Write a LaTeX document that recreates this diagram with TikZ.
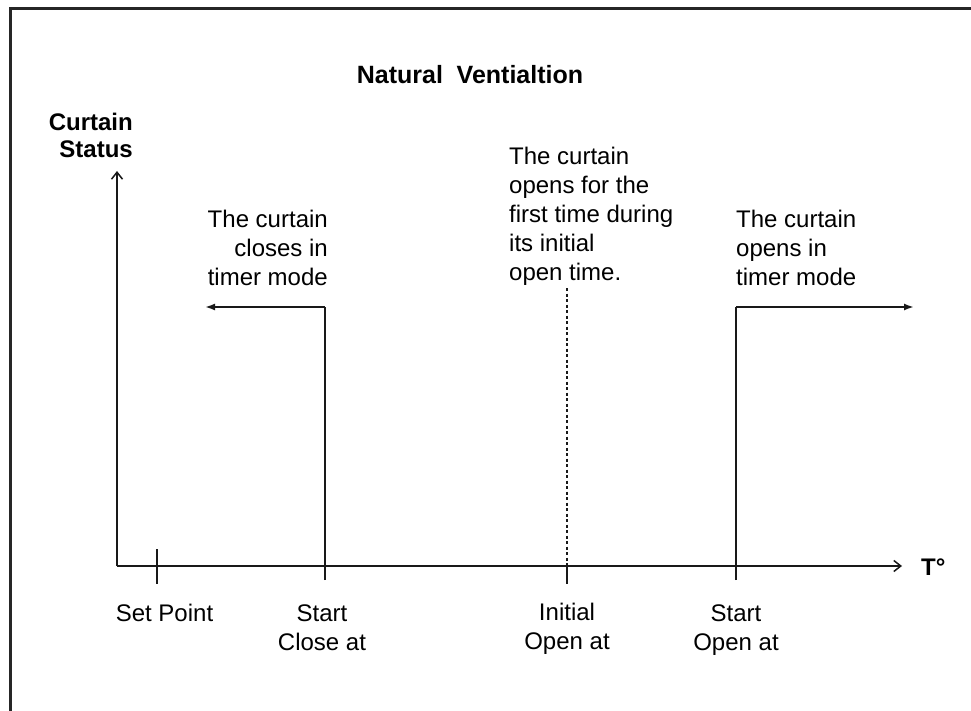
\documentclass[tikz,border=0pt]{standalone}
\usepackage{fontspec}
\setmainfont{Liberation Sans}
\usetikzlibrary{arrows.meta}
\begin{document}
\begin{tikzpicture}[x=1pt,y=-1pt,
  txt/.style={inner sep=0pt, font=\fontsize{24}{29}\selectfont},
  btxt/.style={inner sep=0pt, font=\fontsize{24}{27}\selectfont\bfseries},
  axis/.style={line width=1.8pt, draw=black!90, -{Straight Barb[length=7pt,width=11pt,line width=1.5pt]}},
  tick/.style={line width=1.8pt, draw=black!90},
  status/.style={line width=1.8pt, draw=black!90, -{Latex[length=10pt,width=7pt]}},
  frame/.style={line width=3pt, draw=black!85}]
\useasboundingbox (0,0) rectangle (971,711);
\fill[white] (0,0) rectangle (971,711);
% frame (top and left edges visible)
\coordinate (fTL) at (10,9);
\coordinate (fTR) at (975,9);
\coordinate (fBL) at (10,715);
\draw[frame] (fBL) -- (fTL) -- (fTR);
% title
\node[btxt, font=\fontsize{25}{29}\selectfont\bfseries] (title) at (470,75) {Natural\hspace{0.55em}Ventialtion};
% axes
\coordinate (O) at (117,566);
\coordinate (Ytop) at (117,171);
\coordinate (Xend) at (902,566);
\draw[axis] (O) -- (Ytop);
\draw[axis] (O) -- (Xend);
\node[btxt, anchor=north east, align=right] (ylab) at (133,113) {Curtain\\Status};
\node[btxt, anchor=west] (xlab) at (921,567) {T°};
% ticks
\coordinate (spT) at (157,549);
\coordinate (spB) at (157,584);
\draw[tick, line width=2.8pt] (spT) -- (spB);
\coordinate (scT) at (325,307);
\coordinate (scB) at (325,580);
\coordinate (scA) at (205,307);
\draw[tick] (scB) -- (scT);
\draw[status] (scT) -- (scA);
\coordinate (ioT) at (567,288);
\coordinate (ioB) at (567,584);
\draw[tick, dashed, dash pattern=on 3pt off 2.5pt, line width=1.3pt] (ioT) -- (O -| ioT);
\draw[tick] (O -| ioB) -- (ioB);
\coordinate (soT) at (736,307);
\coordinate (soB) at (736,580);
\coordinate (soA) at (914,307);
\draw[tick] (soB) -- (soT);
\draw[status] (soT) -- (soA);
% texts
\node[txt, anchor=north east, align=right] (closeTxt) at (328,209.5) {The curtain\\closes in\\timer mode};
\node[txt, anchor=north west, align=left] (initTxt) at (509,146.5) {The curtain\\opens for the\\first time during\\its initial\\open time.};
\node[txt, anchor=north west, align=left] (openTxt) at (736,209.5) {The curtain\\opens in\\timer mode};
% axis labels
\node[txt, anchor=north] (spLab) at (164.5,604) {Set Point};
\node[txt, anchor=north, align=center] (scLab) at (322,604.5) {Start\\Close at};
\node[txt, anchor=north, align=center] (ioLab) at (567,603) {Initial\\Open at};
\node[txt, anchor=north, align=center] (soLab) at (736,604.5) {Start\\Open at};
\end{tikzpicture}
\end{document}
